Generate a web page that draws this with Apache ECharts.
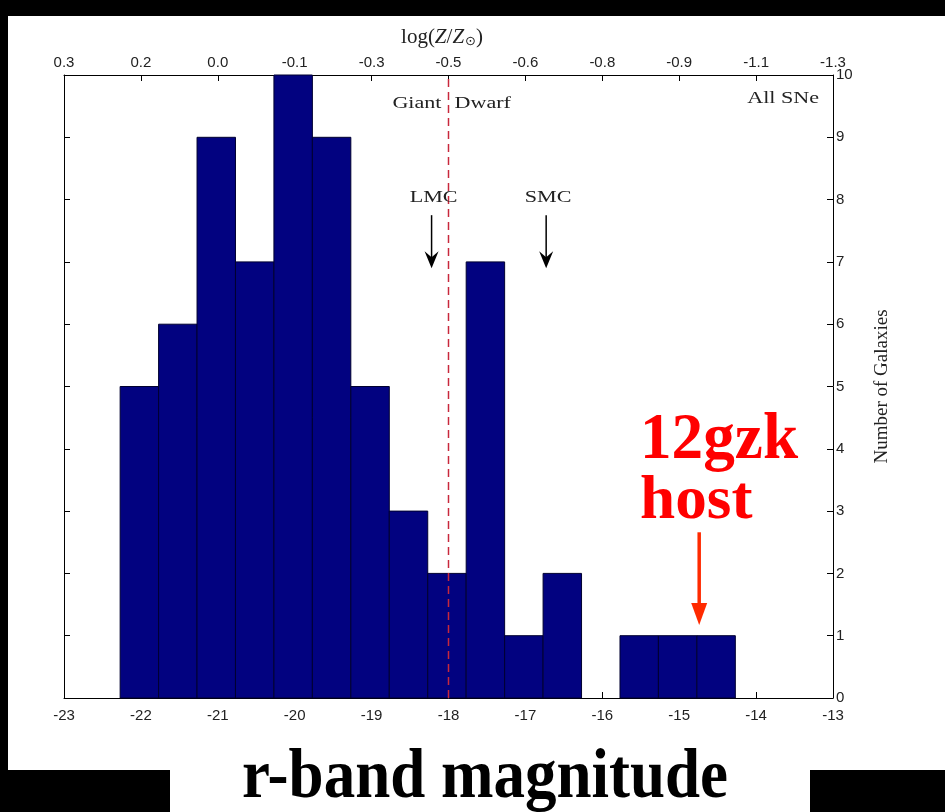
<!DOCTYPE html>
<html><head><meta charset="utf-8">
<script src="https://cdn.jsdelivr.net/npm/echarts@6/dist/echarts.min.js"></script>
<style>html,body{margin:0;padding:0;background:#000;} #c{width:945px;height:812px;}</style>
</head><body><div id="c"></div><script>
// ---- data ----
const binEdges = [-22.27,-21.77,-21.27,-20.77,-20.27,-19.77,-19.27,-18.77,-18.27,-17.77,-17.27,-16.77,-16.27,-15.77,-15.27,-14.77,-14.27];
const counts   = [5,6,9,7,10,9,5,3,2,7,1,2,0,1,1,1];
const magTicks = [-23,-22,-21,-20,-19,-18,-17,-16,-15,-14,-13];
const metalLabels = ['0.3','0.2','0.0','-0.1','-0.3','-0.5','-0.6','-0.8','-0.9','-1.1','-1.3'];
const yTicks = [0,1,2,3,4,5,6,7,8,9,10];
const dividerMag = -18;
const lmcMag = -18.22, smcMag = -16.73, hostMag = -14.74;
const cloudLabelY = 8.03, cloudArrowFrom = 7.75, cloudArrowTo = 6.9;
const giantDwarfY = 9.55, allSNeY = 9.62;
const hostTextMag = -15.51, hostTextY1 = 4.12, hostTextY2 = 3.15;
const hostArrowFrom = 2.66, hostArrowTo = 1.17;

const barData = counts.map((c,i)=>[binEdges[i], binEdges[i+1], c]);

const chart = echarts.init(document.getElementById('c'), null, {renderer:'canvas'});
const axisFont = {fontFamily:'Liberation Sans', fontSize:15, color:'#222'};
const lineStyle = {color:'#000', width:1};
const xBase = {
  type:'value', min:magTicks[0], max:magTicks[magTicks.length-1], interval:1,
  axisLine:{show:true, onZero:false, lineStyle},
  axisTick:{show:true, inside:true, length:6, lineStyle},
  splitLine:{show:false}
};
const yBase = {
  type:'value', min:yTicks[0], max:yTicks[yTicks.length-1], interval:1,
  axisLine:{show:true, onZero:false, lineStyle},
  axisTick:{show:true, inside:true, length:6, lineStyle},
  splitLine:{show:false}
};
const option = {
  backgroundColor:'#000',
  animation:false,
  grid:{left:64, right:112, top:75, bottom:114, containLabel:false},
  xAxis:[
    Object.assign({}, xBase, {position:'bottom', axisLabel:Object.assign({margin:10}, axisFont)}),
    Object.assign({}, xBase, {position:'top', axisLabel:Object.assign({margin:5,
      formatter:v=>metalLabels[Math.round(v-magTicks[0])]}, axisFont)})
  ],
  yAxis:[
    Object.assign({}, yBase, {position:'left', axisLabel:{show:false}}),
    Object.assign({}, yBase, {position:'right', axisLabel:Object.assign({margin:3}, axisFont),
      name:'Number of Galaxies', nameLocation:'middle', nameRotate:90, nameGap:40,
      nameTextStyle:{fontFamily:'Liberation Serif', fontSize:19, color:'#222'}})
  ],
  series:[
    {
      type:'custom', xAxisIndex:0, yAxisIndex:0, data:barData, z:2,
      renderItem(params, api){
        const v = api.value(2);
        if(!v) return null;
        const p0 = api.coord([api.value(0), v]);
        const p1 = api.coord([api.value(1), 0]);
        return {type:'rect', shape:{x:p0[0], y:p0[1], width:p1[0]-p0[0], height:p1[1]-p0[1]},
          style:{fill:'#020280', stroke:'#000030', lineWidth:1}};
      }
    },
    {
      type:'line', xAxisIndex:0, yAxisIndex:0, z:5, symbol:'none',
      data:[[dividerMag, yTicks[0]],[dividerMag, yTicks[yTicks.length-1]]],
      lineStyle:{color:'#c8283c', width:1.5, type:[8,5]}
    }
  ]
};
chart.setOption(option);

function px(x,y){ return chart.convertToPixel({xAxisIndex:0, yAxisIndex:0}, [x,y]); }
const serif = 'Liberation Serif';
const g = [];
// panel background
g.push({type:'rect', z:-100, shape:{x:8, y:16, width:937, height:796}, style:{fill:'#fff'}});
g.push({type:'rect', z:100, shape:{x:0, y:770, width:170, height:42}, style:{fill:'#000'}});
g.push({type:'rect', z:100, shape:{x:810, y:770, width:135, height:42}, style:{fill:'#000'}});
// top axis title
g.push({type:'text', z:50, x:442, y:37, style:{
  text:'{n|log(}{i|Z}{n|/}{i|Z}{s|⊙}{n|)}', textAlign:'center', textVerticalAlign:'middle',
  rich:{n:{fontFamily:serif, fontSize:21, fill:'#222'}, i:{fontFamily:serif, fontStyle:'italic', fontSize:21, fill:'#222'},
        s:{fontFamily:'DejaVu Sans', fontSize:13, fill:'#222', verticalAlign:'bottom', padding:[10,0,0,1]}}}});
// Giant / Dwarf
let p = px(dividerMag, giantDwarfY);
g.push({type:'text', z:50, x:p[0]-7, y:p[1], scaleX:1.3, style:{text:'Giant', font:'17px '+serif, fill:'#222', textAlign:'right', textVerticalAlign:'middle'}});
g.push({type:'text', z:50, x:p[0]+6, y:p[1], scaleX:1.3, style:{text:'Dwarf', font:'17px '+serif, fill:'#222', textAlign:'left', textVerticalAlign:'middle'}});
p = px(magTicks[magTicks.length-1], allSNeY);
g.push({type:'text', z:50, x:p[0]-14, y:p[1], scaleX:1.3, style:{text:'All SNe', font:'17px '+serif, fill:'#222', textAlign:'right', textVerticalAlign:'middle'}});
// LMC / SMC
[[lmcMag,'LMC'],[smcMag,'SMC']].forEach(([m,t])=>{
  const q = px(m, cloudLabelY);
  g.push({type:'text', z:50, x:q[0]+2, y:q[1], scaleX:1.3, style:{text:t, font:'17px '+serif, fill:'#222', textAlign:'center', textVerticalAlign:'middle'}});
  const a = px(m, cloudArrowFrom), b = px(m, cloudArrowTo);
  g.push({type:'line', z:50, shape:{x1:a[0], y1:a[1], x2:b[0], y2:b[1]-8}, style:{stroke:'#000', lineWidth:1.5}});
  g.push({type:'polygon', z:50, shape:{points:[[b[0],b[1]],[b[0]-7,b[1]-17],[b[0],b[1]-11],[b[0]+7,b[1]-17]]}, style:{fill:'#000'}});
});
// 12gzk host
let h1 = px(hostTextMag, hostTextY1), h2 = px(hostTextMag, hostTextY2);
g.push({type:'text', z:50, x:h1[0], y:h1[1], scaleX:1.02, scaleY:1.05, style:{text:'12gzk', font:'bold 62px '+serif, fill:'#ff0000', textAlign:'left', textVerticalAlign:'middle'}});
g.push({type:'text', z:50, x:h2[0], y:h2[1], scaleX:1.02, scaleY:1.0, style:{text:'host', font:'bold 62px '+serif, fill:'#ff0000', textAlign:'left', textVerticalAlign:'middle'}});
let ha = px(hostMag, hostArrowFrom), hb = px(hostMag, hostArrowTo);
g.push({type:'line', z:50, shape:{x1:ha[0], y1:ha[1], x2:hb[0], y2:hb[1]-18}, style:{stroke:'#ff2a00', lineWidth:3.5}});
g.push({type:'polygon', z:50, shape:{points:[[hb[0],hb[1]],[hb[0]-8,hb[1]-22],[hb[0]+8,hb[1]-22]]}, style:{fill:'#ff2a00'}});
// bottom title
g.push({type:'text', z:120, x:485, y:779, scaleX:0.9, style:{text:'r-band magnitude', font:'bold 70px '+serif, fill:'#000', textAlign:'center', textVerticalAlign:'middle'}});
chart.setOption({graphic:g});
</script></body></html>
